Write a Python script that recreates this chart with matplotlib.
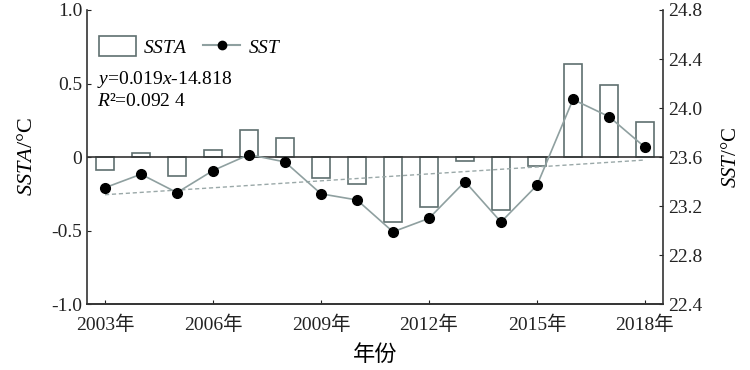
import numpy as np
import matplotlib
matplotlib.use("Agg")
import matplotlib.pyplot as plt
from matplotlib.patches import Patch
from matplotlib.lines import Line2D

plt.rcParams['font.family'] = ['Liberation Serif', 'Noto Sans CJK SC']
plt.rcParams['mathtext.fontset'] = 'custom'
plt.rcParams['mathtext.rm'] = 'Liberation Serif'
plt.rcParams['mathtext.it'] = 'Liberation Serif:italic'

# data
years = list(range(2003, 2019))
ssta = [-0.09, 0.025, -0.13, 0.05, 0.185, 0.13, -0.14, -0.185,
        -0.44, -0.34, -0.03, -0.36, -0.06, 0.633, 0.49, 0.24]
sst = [23.35, 23.46, 23.31, 23.49, 23.62, 23.56, 23.30, 23.25,
       22.99, 23.10, 23.40, 23.07, 23.37, 24.07, 23.93, 23.68]
xticks = [2003, 2006, 2009, 2012, 2015, 2018]
xticklabels = ['%d年' % y for y in xticks]

edge = '#5f6f6f'
linec = '#8fa0a0'

fig = plt.figure(figsize=(7.5, 3.7), dpi=100)
ax = fig.add_axes([0.116, 0.178, 0.768, 0.795])
ax2 = ax.twinx()

ax.bar(years, ssta, width=0.5, facecolor='white', edgecolor=edge, linewidth=1.2, zorder=2)
ax.axhline(0, color='#333333', linewidth=1.2, zorder=3)
ax.set_xlim(2002.5, 2018.5)
ax.set_ylim(-1.0, 1.0)
ax.set_yticks([-1.0, -0.5, 0, 0.5, 1.0])
ax.set_yticklabels(['-1.0', '-0.5', '0', '0.5', '1.0'])
ax.set_xticks(xticks)
ax.set_xticklabels(xticklabels)
ax.set_ylabel('$SSTA$/°C', fontsize=16, labelpad=10)
ax.set_xlabel('年份', fontsize=16, labelpad=8)

ax2.plot(years, sst, color=linec, linewidth=1.2, marker='o', markersize=7,
         markerfacecolor='black', markeredgecolor='black', zorder=4)
# linear trend of SST
k, b = np.polyfit(years, sst, 1)
yr = np.array([years[0], years[-1]])
ax2.plot(yr, k * yr + b, color='#9aa8a8', linestyle=(0, (3, 2)), linewidth=1.0)
ax2.set_ylim(22.4, 24.8)
ax2.set_yticks([22.4, 22.8, 23.2, 23.6, 24.0, 24.4, 24.8])
ax2.set_yticklabels(['%.1f' % v for v in [22.4, 22.8, 23.2, 23.6, 24.0, 24.4, 24.8]])
ax2.set_ylabel('$SST$/°C', fontsize=15, labelpad=14)

for a in (ax, ax2):
    a.spines['top'].set_visible(False)
    for s in ('left', 'right', 'bottom'):
        a.spines[s].set_color('#333333')
        a.spines[s].set_linewidth(1.2)
    a.tick_params(direction='in', length=3, labelsize=14, colors='#222222')
ax.tick_params(axis='x', pad=8)
ax.spines['right'].set_visible(False)
ax2.spines['left'].set_visible(False)

handles = [Patch(facecolor='white', edgecolor=edge, linewidth=1.2),
           Line2D([], [], color=linec, marker='o', markersize=6,
                  markerfacecolor='black', markeredgecolor='black')]
ax.legend(handles, ['$SSTA$', '$SST$'], loc='upper left', ncol=2, frameon=False,
          fontsize=14, bbox_to_anchor=(-0.01, 0.97), handlelength=1.9,
          handleheight=1.2, handletextpad=0.4, columnspacing=0.8)

ax.text(0.018, 0.748, '$y$=0.019$x$-14.818', transform=ax.transAxes, fontsize=14)
ax.text(0.018, 0.672, '$R$²=0.092 4', transform=ax.transAxes, fontsize=14)

fig.savefig('out.png', dpi=100)
